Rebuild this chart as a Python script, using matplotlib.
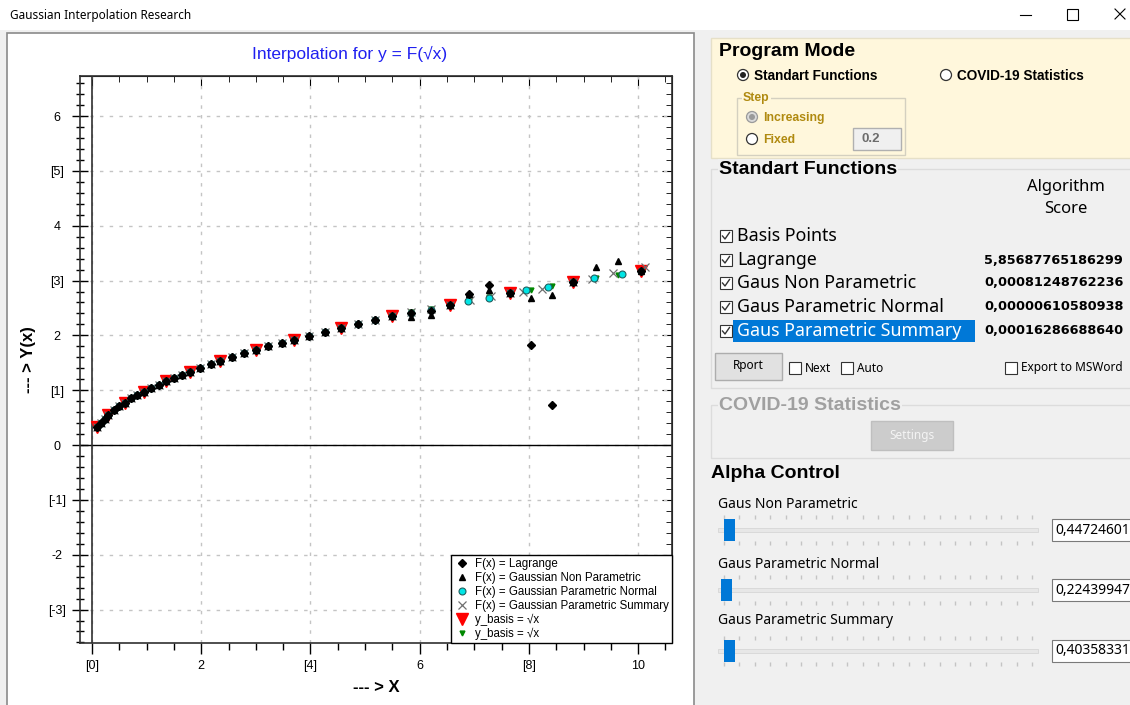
import matplotlib
matplotlib.use('Agg')
import matplotlib.pyplot as plt
from matplotlib.patches import Rectangle, Circle
from matplotlib.ticker import MultipleLocator
import numpy as np

# ---- data ----
basis_x = [0.1, 0.3, 0.6, 0.95, 1.35, 1.8, 2.35, 3.0, 3.7, 4.55, 5.5, 6.55, 7.65, 8.8, 10.05]
basis_y = [0.32, 0.55, 0.77, 0.97, 1.16, 1.34, 1.53, 1.73, 1.92, 2.13, 2.35, 2.56, 2.77, 2.97, 3.17]

# test points (between basis points) and the true sqrt there
test_x = [0.17, 0.23, 0.4, 0.5, 0.72, 0.83, 1.08, 1.22, 1.5, 1.65, 1.98, 2.17, 2.57, 2.78,
          3.23, 3.47, 3.98, 4.27, 4.87, 5.18, 5.85, 6.2, 6.9, 7.27, 8.03, 8.42, 9.22, 9.63]
test_y = [0.41, 0.48, 0.63, 0.71, 0.85, 0.91, 1.04, 1.10, 1.22, 1.28, 1.41, 1.47, 1.60, 1.67,
          1.80, 1.86, 1.99, 2.07, 2.21, 2.28, 2.42, 2.49, 2.63, 2.70, 2.83, 2.90, 3.04, 3.10]

x_all = [0.1, 0.17, 0.23, 0.3, 0.4, 0.5, 0.6, 0.72, 0.83, 0.95,
         1.08, 1.22, 1.35, 1.5, 1.65, 1.8, 1.98, 2.17, 2.35, 2.57,
         2.78, 3.0, 3.23, 3.47, 3.7, 3.98, 4.27, 4.55, 4.87, 5.18,
         5.5, 5.85, 6.2, 6.55, 6.9, 7.27, 7.65, 8.03, 8.42, 8.8,
         9.22, 9.63, 10.05]

lagrange_y = [0.32, 0.41, 0.48, 0.55, 0.63, 0.71, 0.77, 0.85, 0.91, 0.97,
              1.04, 1.10, 1.16, 1.22, 1.28, 1.34, 1.41, 1.47, 1.53, 1.60,
              1.67, 1.73, 1.80, 1.86, 1.92, 1.99, 2.07, 2.13, 2.21, 2.28,
              2.35, 2.41, 2.45, 2.56, 2.75, 2.92, 2.77, 1.82, 0.73, 2.97,
              np.nan, np.nan, 3.17]

nonpar_y = [0.32, 0.41, 0.48, 0.55, 0.63, 0.71, 0.77, 0.85, 0.91, 0.97,
            1.04, 1.10, 1.16, 1.22, 1.28, 1.34, 1.41, 1.47, 1.53, 1.60,
            1.67, 1.73, 1.80, 1.86, 1.92, 1.99, 2.07, 2.13, 2.23, 2.29,
            2.35, 2.33, 2.38, 2.56, 2.76, 2.83, 2.77, 2.68, 2.74, 2.97,
            3.25, 3.36, 3.17]

normal_x = [0.1, 0.17, 0.23, 0.3, 0.4, 0.5, 0.6, 0.72, 0.83, 0.95,
            1.08, 1.22, 1.35, 1.5, 1.65, 1.8, 1.98, 2.17, 2.35, 2.57,
            2.78, 3.0, 3.23, 3.47, 3.7, 3.98, 4.27, 4.55, 4.87, 5.18,
            5.5, 5.85, 6.2, 6.55, 6.88, 7.27, 7.65, 7.95, 8.35, 8.8,
            9.2, 9.7, 10.05]
normal_y = [0.32, 0.41, 0.48, 0.55, 0.63, 0.71, 0.77, 0.85, 0.91, 0.97,
            1.04, 1.10, 1.16, 1.22, 1.28, 1.34, 1.41, 1.47, 1.53, 1.60,
            1.67, 1.73, 1.80, 1.86, 1.92, 1.99, 2.07, 2.13, 2.21, 2.28,
            2.35, 2.41, 2.46, 2.56, 2.63, 2.68, 2.77, 2.83, 2.88, 2.97,
            3.05, 3.12, 3.17]

summary_x = [0.1, 0.17, 0.23, 0.3, 0.4, 0.5, 0.6, 0.72, 0.83, 0.95,
             1.08, 1.22, 1.35, 1.5, 1.65, 1.8, 1.98, 2.17, 2.35, 2.57,
             2.78, 3.0, 3.23, 3.47, 3.7, 3.98, 4.27, 4.55, 4.87, 5.18,
             5.5, 5.85, 6.2, 6.55, 6.92, 7.3, 7.65, 7.89, 8.24, 8.8,
             9.15, 9.54, 10.13]
summary_y = [0.32, 0.41, 0.48, 0.55, 0.63, 0.71, 0.77, 0.85, 0.91, 0.97,
             1.04, 1.10, 1.16, 1.22, 1.28, 1.34, 1.41, 1.47, 1.53, 1.60,
             1.67, 1.73, 1.80, 1.86, 1.92, 1.99, 2.07, 2.13, 2.21, 2.28,
             2.35, 2.42, 2.49, 2.56, 2.65, 2.72, 2.77, 2.79, 2.85, 2.97,
             3.03, 3.14, 3.25]

x_ticks = [0, 2, 4, 6, 8, 10]
x_ticklabels = ['[0]', '2', '[4]', '6', '[8]', '10']
y_ticks = [6, 5, 4, 3, 2, 1, 0, -1, -2, -3]
y_ticklabels = ['6', '[5]', '4', '[3]', '2', '[1]', '0', '[-1]', '-2', '[-3]']

legend_labels = ['F(x) = Lagrange', 'F(x) = Gaussian Non Parametric', 'F(x) = Gaussian Parametric Normal',
                 'F(x) = Gaussian Parametric Summary', 'y_basis = \u221ax', 'y_basis = \u221ax']

scores = ['5,85687765186299', '0,00081248762236', '0,00000610580938', '0,00016286688640']
check_labels = ['Basis Points', 'Lagrange', 'Gaus Non Parametric', 'Gaus Parametric Normal',
                'Gaus Parametric Summary']
alpha_labels = ['Gaus Non Parametric', 'Gaus Parametric Normal', 'Gaus Parametric Summary']
alpha_values = ['0,44724601', '0,22439947', '0,40358331']

W, H = 1130, 705
ARIAL = 'Liberation Sans'
UI = 'DejaVu Sans'

fig = plt.figure(figsize=(W / 100, H / 100), dpi=100)

# background axes in pixel coordinates (origin top-left)
bg = fig.add_axes([0, 0, 1, 1])
bg.set_xlim(0, W)
bg.set_ylim(H, 0)
bg.axis('off')

def rect(x0, y0, x1, y1, fc='none', ec='none', lw=1.0, z=1):
    bg.add_patch(Rectangle((x0, y0), x1 - x0, y1 - y0, facecolor=fc, edgecolor=ec, linewidth=lw, zorder=z))

def txt(x, y, s, size=9, color='black', weight='normal', ha='left', family=UI, **kw):
    bg.text(x, y, s, fontsize=size, color=color, fontweight=weight, ha=ha, va='center',
            family=family, zorder=5, **kw)

rect(0, 0, W, H, fc='#F0F0F0')
rect(0, 0, W, 30, fc='white')
txt(10, 15, 'Gaussian Interpolation Research', size=8.5, family='Noto Sans')
bg.plot([1020, 1031], [15, 15], color='black', lw=0.8)
rect(1067, 9, 1078, 20, ec='black', lw=0.8)
bg.plot([1115, 1125], [9, 19], color='black', lw=0.8)
bg.plot([1115, 1125], [19, 9], color='black', lw=0.8)

# chart panel
rect(7, 33, 694, H + 5, fc='white', ec='#8a8a8a', lw=1.2)
txt(350, 54, 'Interpolation for y = F(\u221ax)', size=12.5, color='#2020F0', ha='center', family=ARIAL)
txt(28, 360, '--- > Y(x)', size=12, weight='bold', ha='center', family=ARIAL, rotation=90)
txt(376, 688, '--- > X', size=12, weight='bold', ha='center', family=ARIAL)

# ---- Program Mode ----
rect(711, 38, W + 2, 158, fc='#FFF7DC', ec='#E6E0C8')
txt(719, 51, 'Program Mode', size=14, weight='bold', family=ARIAL)

def radio(x, y, filled=False, disabled=False):
    bg.add_patch(Circle((x, y), 5.5, facecolor='#DADADA' if disabled else 'white',
                        edgecolor='#9a9a9a' if disabled else '#333333', lw=0.9, zorder=4))
    if filled:
        bg.add_patch(Circle((x, y), 3, facecolor='#9a9a9a' if disabled else '#222222',
                            edgecolor='none', zorder=5))

radio(743, 75, filled=True)
txt(754, 76, 'Standart Functions', size=9.8, weight='bold', family=ARIAL)
radio(946, 75)
txt(957, 76, 'COVID-19 Statistics', size=9.8, weight='bold', family=ARIAL)

rect(737, 98, 905, 155, ec='#D4D0C0')
bg.text(743, 98, 'Step', fontsize=8.8, color='#B08A10', fontweight='bold', family=ARIAL, va='center',
        zorder=5, bbox=dict(facecolor='#FFF7DC', edgecolor='none', pad=1))
radio(752, 117, filled=True, disabled=True)
txt(763, 118, 'Increasing', size=8.8, weight='bold', color='#B08A10', family=ARIAL)
radio(752, 139)
txt(763, 140, 'Fixed', size=8.8, weight='bold', color='#B08A10', family=ARIAL)
rect(853, 128, 901, 150, fc='#F0F0F0', ec='#B0B0B0')
txt(861, 139, '0.2', size=9.5, weight='bold', color='#6D6D6D', family=ARIAL)

# ---- Standart Functions ----
rect(711, 169, W + 2, 388, ec='#DCDCDC')
bg.text(719, 169, 'Standart Functions', fontsize=14, fontweight='bold', family=ARIAL, va='center',
        zorder=5, bbox=dict(facecolor='#F0F0F0', edgecolor='none', pad=1))
txt(1066, 187, 'Algorithm', size=12, ha='center', family='Noto Sans')
txt(1066, 209, 'Score', size=12, ha='center', family='Noto Sans')

def checkbox(x, y, checked):
    rect(x, y - 6, x + 12, y + 6, fc='white', ec='#333333', lw=0.8, z=4)
    if checked:
        bg.plot([x + 2.5, x + 5, x + 9.5], [y, y + 3, y - 3.5], color='#333333', lw=1.0, zorder=5)

row_y = [236, 260, 283, 307, 331]
rect(733, 320, 975, 342, fc='#0078D7', z=2)
for i, (lab, yy) in enumerate(zip(check_labels, row_y)):
    checkbox(720, yy, True)
    txt(737, yy, lab, size=12.8, color='white' if i == 4 else 'black', family='Noto Sans')
for sc, yy in zip(scores, row_y[1:]):
    txt(984, yy, sc, size=9.3, weight='bold', family=UI)

rect(715, 353, 782, 380, fc='#E1E1E1', ec='#ADADAD')
txt(748, 366, 'Rport', size=8.5, ha='center', family='Noto Sans')
checkbox(789, 368, False)
txt(805, 368, 'Next', size=8.5, family='Noto Sans')
checkbox(841, 368, False)
txt(857, 368, 'Auto', size=8.5, family='Noto Sans')
checkbox(1005, 368, False)
txt(1021, 368, 'Export to MSWord', size=8.5, family='Noto Sans')

# ---- COVID-19 Statistics (disabled) ----
rect(711, 405, W + 2, 458, ec='#DCDCDC')
bg.text(719, 405, 'COVID-19 Statistics', fontsize=14, fontweight='bold', color='#A0A0A0', family=ARIAL,
        va='center', zorder=5, bbox=dict(facecolor='#F0F0F0', edgecolor='none', pad=1))
rect(871, 421, 953, 450, fc='#CCCCCC', ec='#BFBFBF')
txt(912, 436, 'Settings', size=8.5, ha='center', color='#F4F4F4', family='Noto Sans')

# ---- Alpha Control ----
txt(711, 474, 'Alpha Control', size=14, weight='bold', family=ARIAL)
slider_label_y = [505, 565, 620]
track_y = [530, 590, 651]
thumb_x = [724, 721, 724]
for lab, val, ly, ty, tx in zip(alpha_labels, alpha_values, slider_label_y, track_y, thumb_x):
    txt(718, ly, lab, size=10, family='Noto Sans')
    rect(718, ty - 2, 1038, ty + 2, fc='#E7E7E7', ec='#D6D6D6', lw=0.6)
    tick_xs = np.arange(724, 1036, 15.4)
    bg.plot(tick_xs, [ty - 13] * len(tick_xs), linestyle='none', marker='|', ms=3, color='#C4C4C4')
    bg.plot(tick_xs, [ty + 13] * len(tick_xs), linestyle='none', marker='|', ms=3, color='#C4C4C4')
    rect(tx, ty - 11, tx + 11, ty + 11, fc='#0078D7', z=4)
    rect(1052, ty - 11, W + 2, ty + 11, fc='white', ec='#7A7A7A', lw=0.8)
    txt(1055, ty, val, size=10, family='Noto Sans')

# ---- chart ----
ax = fig.add_axes([80 / W, 1 - 643 / H, 592 / W, 567 / H])
ax.set_facecolor('white')
ax.set_xlim(-0.22, 10.62)
ax.set_ylim(-3.61, 6.73)

for s in ax.spines.values():
    s.set_color('#303030')
    s.set_linewidth(1.2)

ax.set_xticks(x_ticks)
ax.set_xticklabels(x_ticklabels, fontsize=9, family=ARIAL)
ax.set_yticks(y_ticks)
ax.set_yticklabels(y_ticklabels, fontsize=9, family=ARIAL)
ax.xaxis.set_minor_locator(MultipleLocator(0.5))
ax.yaxis.set_minor_locator(MultipleLocator(0.2))
ax.tick_params(axis='x', which='major', direction='out', length=8, width=1, pad=4)
ax.tick_params(axis='x', which='minor', direction='out', length=5, width=1)
ax.tick_params(axis='y', which='major', direction='inout', length=11, width=1, pad=11)
ax.tick_params(axis='y', which='minor', direction='inout', length=6, width=1)
for lab in ax.get_yticklabels():
    lab.set_horizontalalignment('center')

top = ax.secondary_xaxis('top')
top.set_xticks(x_ticks)
top.xaxis.set_minor_locator(MultipleLocator(0.5))
top.tick_params(which='major', direction='in', length=7, labeltop=False)
top.tick_params(which='minor', direction='in', length=4)
right = ax.secondary_yaxis('right')
right.set_yticks(y_ticks)
right.yaxis.set_minor_locator(MultipleLocator(0.2))
right.tick_params(which='major', direction='in', length=7, labelright=False)
right.tick_params(which='minor', direction='in', length=4)

ax.grid(True, which='major', color='#C4C4C4', linestyle=(0, (2.5, 4.5)), linewidth=1)
ax.axhline(0, color='black', lw=1)
ax.axvline(0, color='#303030', lw=1.2)

h_basis, = ax.plot(basis_x, basis_y, linestyle='none', marker='v', ms=8, color='#FF0000', zorder=3)
h_true, = ax.plot(test_x, test_y, linestyle='none', marker='v', ms=3.5, color='#008800', zorder=4)
h_sum, = ax.plot(summary_x, summary_y, linestyle='none', marker='x', ms=5.5, mew=0.9,
                 color='#707070', zorder=5)
h_norm, = ax.plot(normal_x, normal_y, linestyle='none', marker='o', ms=5, mfc='#00E5E5',
                  mec='#206060', mew=0.8, zorder=6)
h_np, = ax.plot(x_all, nonpar_y, linestyle='none', marker='^', ms=5, color='black', zorder=7)
h_lag, = ax.plot(x_all, lagrange_y, linestyle='none', marker='D', ms=4, color='black', zorder=8)

leg = ax.legend([h_lag, h_np, h_norm, h_sum, h_basis, h_true], legend_labels,
                loc='lower right', borderaxespad=0, fancybox=False, edgecolor='black', framealpha=1,
                prop={'family': ARIAL, 'size': 8.3}, handlelength=1.3, handletextpad=0.45,
                labelspacing=0.15, borderpad=0.3, numpoints=1)
leg.get_frame().set_linewidth(1.0)
leg.set_zorder(10)

fig.savefig('out.png', dpi=100)
